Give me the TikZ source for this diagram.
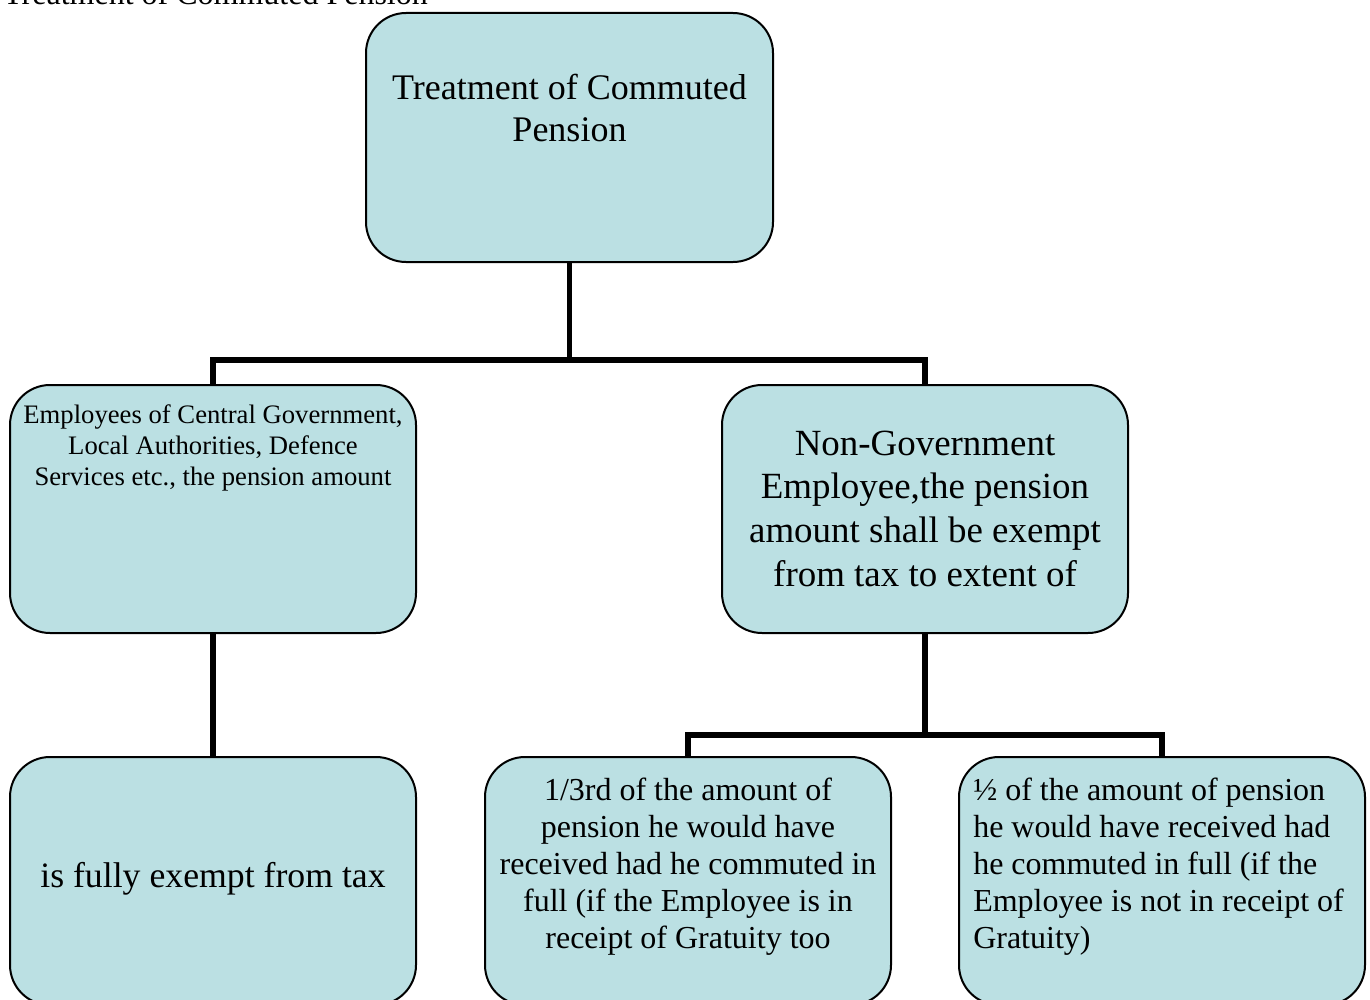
\documentclass[tikz,border=0pt]{standalone}
\usepackage{fontspec}
\setmainfont{Liberation Serif}
\usetikzlibrary{backgrounds}
\definecolor{boxfill}{RGB}{187,224,227}
\tikzset{
  box/.style={draw=black, line width=1.5pt, fill=boxfill, rounded corners=30pt,
    minimum width=304.5pt, minimum height=186pt, inner sep=0pt},
  link/.style={draw=black, line width=4pt},
  txt/.style={anchor=base, inner sep=0pt},
}
\newcommand\fs[2]{\fontsize{#1}{#2}\selectfont}
\begin{document}
\begin{tikzpicture}[x=0.75pt, y=-0.75pt]
\clip (0,0) rectangle (1370,999);

% heading
\node[txt, anchor=base west] (title) at (3,5) {\fs{24pt}{28pt}Treatment of Commuted Pension};

% boxes
\node[box, minimum width=305.25pt, minimum height=186.75pt] (top) at (569.5,137.5) {};
\node[box] (gov)   at (213,509) {};
\node[box] (ngov)  at (925,509) {};
\node[box] (full)  at (213,881) {};
\node[box] (third) at (688,881) {};
\node[box] (half)  at (1162,881) {};

% texts
\node[txt] (ttop) at (569.5,99) {\fs{27pt}{31.5pt}\begin{tabular}[t]{@{}c@{}}Treatment of Commuted\\ Pension\end{tabular}};
\node[txt] (tgov) at (213,423) {\fs{20pt}{23.6pt}\begin{tabular}[t]{@{}c@{}}Employees of Central Government,\\ Local Authorities, Defence\\ Services etc., the pension amount\end{tabular}};
\node[txt] (tngov) at (925,455) {\fs{27.7pt}{32.8pt}\begin{tabular}[t]{@{}c@{}}Non-Government\\ Employee,the pension\\ amount shall be exempt\\ from tax to extent of\end{tabular}};
\node[txt] (tfull) at (213,887) {\fs{26.8pt}{31pt}is fully exempt from tax};
\node[txt] (tthird) at (688,800) {\fs{24pt}{27.75pt}\begin{tabular}[t]{@{}c@{}}1/3rd of the amount of\\ pension he would have\\ received had he commuted in\\ full (if the Employee is in\\ receipt of Gratuity too\end{tabular}};
\node[txt, anchor=base west] (thalf) at (973,800) {\fs{24pt}{27.75pt}\begin{tabular}[t]{@{}l@{}}½ of the amount of pension\\ he would have received had\\ he commuted in full (if the\\ Employee is not in receipt of\\ Gratuity)\end{tabular}};

% connectors
\coordinate (bus1) at (569.5,360);
\coordinate (bus2) at (925,735);
\begin{scope}[on background layer]
\draw[link] (top.south) -- (bus1) -| (gov.north);
\draw[link] (bus1) -| (ngov.north);
\draw[link] (gov.south) -- (full.north);
\draw[link] (ngov.south) -- (bus2) -| (third.north);
\draw[link] (bus2) -| (half.north);
\end{scope}
\end{tikzpicture}
\end{document}
